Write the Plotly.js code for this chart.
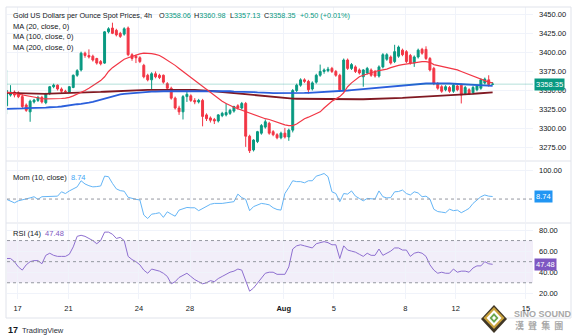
<!DOCTYPE html>
<html><head><meta charset="utf-8">
<script src="https://cdn.plot.ly/plotly-3.0.1.min.js"></script>
<style>html,body{margin:0;padding:0;background:#fff}#chart{width:577px;height:336px}</style>
</head><body><div id="chart"></div>
<script>
// ---- data (4h bars) ----
const opens = [3330,3344,3348,3347,3342,3331,3322,3335,3337,3341,
 3334,3346,3355,3357,3352,3349,3348,3354,3370,3377,
 3399,3396,3395,3392,3388,3386,3427,3432,3429,3425,
 3424,3432,3397,3395,3393,3383,3370,3364,3372,3370,
 3370,3359,3353,3340,3327,3322,3342,3343,3337,3335,
 3337,3318,3314,3312,3310,3317,3318,3320,3323,3330,
 3327,3333,3290,3272,3283,3294,3302,3307,3296,3292,
 3288,3294,3289,3298,3350,3357,3364,3362,3352,3361,
 3370,3375,3376,3379,3375,3370,3351,3390,3379,3381,
 3377,3368,3373,3377,3375,3369,3381,3391,3394,3388,
 3395,3403,3401,3396,3386,3394,3404,3404,3392,3379,
 3359,3355,3351,3354,3349,3356,3357,3346,3351,3347,
 3351,3353,3360,3364,3358.06];
const highs = [3377,3357,3350,3349,3345,3333,3338,3339,3343,3343,
 3347,3356,3359,3358,3354,3351,3356,3371,3378,3401,
 3401,3404,3397,3393,3390,3428,3433,3439,3431,3427,
 3433,3434,3399,3397,3395,3385,3372,3374,3375,3372,
 3371,3361,3355,3342,3330,3344,3348,3345,3340,3339,
 3339,3320,3316,3314,3319,3322,3333,3326,3330,3332,
 3335,3335,3292,3286,3297,3306,3312,3309,3298,3294,
 3296,3301,3300,3352,3359,3366,3366,3364,3362,3372,
 3384,3379,3381,3381,3377,3372,3392,3392,3386,3383,
 3379,3378,3381,3379,3377,3383,3399,3399,3396,3410,
 3409,3405,3403,3398,3396,3405,3406,3408,3394,3381,
 3361,3357,3357,3356,3359,3358,3359,3356,3353,3356,
 3358,3366,3367,3370,3360.98];
const lows = [3319,3342,3341,3340,3327,3322,3309,3333,3335,3333,
 3332,3344,3353,3350,3347,3347,3347,3353,3368,3375,
 3393,3392,3388,3384,3383,3385,3425,3424,3421,3419,
 3422,3395,3389,3386,3386,3366,3362,3351,3366,3365,
 3359,3351,3338,3325,3318,3312,3335,3335,3332,3333,
 3303,3310,3308,3306,3308,3315,3316,3318,3321,3325,
 3325,3276,3268,3270,3281,3292,3300,3292,3290,3286,
 3286,3287,3284,3295,3348,3355,3360,3346,3350,3359,
 3368,3372,3374,3373,3368,3349,3349,3377,3377,3373,
 3371,3355,3371,3368,3367,3367,3379,3389,3384,3386,
 3393,3395,3386,3384,3381,3392,3397,3390,3375,3357,
 3351,3347,3349,3347,3347,3349,3333,3344,3344,3345,
 3349,3351,3358,3355,3357.13];
const closes = [3350,3348,3344,3342,3329,3324,3336,3337.5,3341,3335,
 3346,3355,3357,3352,3349,3348.5,3355,3370,3376,3399,
 3396,3394,3390,3386,3385,3427,3431,3425,3423,3421,
 3431,3397,3392,3393,3388,3368,3364,3372,3368,3367,
 3361,3353,3340,3327,3322,3342,3345,3337,3335,3337,
 3316,3313,3311,3310,3318,3320,3321,3324,3329,3327,
 3333,3290,3271,3285,3296,3304,3309,3294,3292,3288,
 3294,3289,3298,3350,3357,3364,3362,3351,3360,3370,
 3375,3377,3378,3375,3370,3351,3390,3379,3384,3375,
 3373,3377,3379,3370,3369,3381,3397,3397,3386,3401,
 3407,3397,3388,3386,3394,3403,3399,3392,3377,3359,
 3353,3349,3355,3349,3357,3351,3344,3354,3346,3354,
 3356,3364,3365,3357.85,3358.35];
const ma20 = [3348,3347,3346,3345,3344,3343,3342,3341,3340,3339.5,
 3339,3339,3339,3339,3339.5,3340,3341,3343,3345,3347.5,
 3350,3353,3356,3359,3363,3368,3375,3380,3384,3388,
 3391,3393,3395,3397,3398,3399,3399,3398.5,3397.5,3396,
 3393,3390,3387,3383,3379,3375,3371,3367,3363,3359,
 3355,3351,3347,3343,3339,3336,3333,3330,3328,3326,
 3324,3322,3320,3318,3317,3315,3313,3312,3310,3308,
 3307,3305,3304,3304,3306,3310,3313,3315,3317,3319,
 3322,3327,3332,3336,3339,3342,3347,3355,3360,3364,
 3368,3370,3372,3374,3375,3376,3377,3378,3380,3382,
 3383,3384,3385,3386,3387,3388,3388,3388,3387,3384,
 3383,3381,3380,3379,3378,3377,3375,3373,3371,3368,
 3366,3364,3363,3361,3360];
const ma100 = [3326,3326,3326,3326.5,3326.5,3327,3327,3327,3327,3327.5,
 3327.5,3328,3328,3328.5,3329,3330,3330.5,3331,3332,3332.5,
 3333,3334,3335,3336.5,3338,3339.5,3341,3342,3343.5,3345,
 3345.5,3346,3346.5,3347,3347.5,3348,3348,3348.5,3348.5,3349,
 3349,3349,3349,3349,3349,3349.5,3349.5,3349.5,3349.5,3349.5,
 3349.5,3349.5,3349.5,3349,3349,3349,3349,3349,3348.5,3348.5,
 3348.5,3348.5,3348,3348,3347.5,3347.5,3347,3347,3346.5,3346.5,
 3346.3,3346.2,3346,3346,3346.2,3346.5,3346.8,3347,3347.2,3347.5,
 3347.8,3348,3348.3,3348.6,3349,3349.3,3349.6,3350,3350.5,3351,
 3351.5,3352,3352.5,3353,3353.5,3354,3354.5,3355,3355.5,3356,
 3356.5,3357,3357.5,3358,3358.5,3358.8,3359,3359.2,3359.4,3359.5,
 3359.5,3359.5,3359.4,3359.2,3358.9,3358.6,3358.2,3357.8,3357.4,3357,
 3356.7,3356.5,3356.3,3356.1,3356];
const ma200 = [3347,3346.8,3346.5,3346.2,3346,3345.8,3345.6,3345.5,3345.5,3345.6,
 3345.7,3345.8,3345.9,3346,3346.1,3346.2,3346.4,3346.6,3346.8,3347,
 3347.2,3347.4,3347.6,3347.9,3348.1,3348.4,3348.7,3349,3349.3,3349.6,
 3349.9,3350.1,3350.3,3350.5,3350.6,3350.7,3350.8,3350.9,3351,3351,
 3351,3351,3351,3351,3351,3351,3351,3350.9,3350.8,3350.7,
 3350.4,3350,3349.5,3349,3348.5,3348,3347.5,3346.8,3346,3345.5,
 3345,3344.5,3344,3343.6,3343.2,3342.8,3342.3,3341.9,3341.5,3341.2,
 3340.8,3340.3,3339.6,3339.3,3339.2,3339.1,3339,3339,3338.9,3338.9,
 3338.9,3338.9,3338.9,3338.8,3338.8,3338.7,3338.7,3338.6,3338.6,3338.5,
 3338.5,3338.5,3338.6,3338.7,3338.9,3339,3339.2,3339.4,3339.6,3339.8,
 3340,3340.3,3340.6,3340.9,3341.2,3341.4,3341.7,3341.9,3342,3342.2,
 3342.4,3342.6,3342.8,3343,3343.3,3343.6,3344,3344.5,3345,3345.6,
 3346.1,3346.6,3347,3347.3,3347.6];
const mom10 = [-1,-8,-13,-6,-3,-1,4,8,-1,8,
 9,10,10,10,25,19,28,35,42,63,
 52,46,42,43,45,79,77,54,35,29,
 27,6,2,-1,-3,-55,-67,-52,-50,-47,
 -63,-44,-52,-59,-38,-33,-29,-30,-30,-40,
 -33,-26,-18,-15,-16,-15,-13,-11,-9,17,
 5,-1,-40,-26,-20,-15,-17,-20,-30,-36,
 -38,19,40,63,60,60,56,63,63,79,
 83,88,77,25,19,-9,19,17,28,10,
 2,-6,2,0,0,28,8,4,5,25,
 26,31,19,14,25,21,8,10,0,-35,
 -43,-45,-47,-35,-40,-38,-47,-40,-32,-15,
 -3,8,14,10,8.74];
const rsi14 = [53,53,50,45,42,47,50,51,51,48,
 56,58,56,55,55,55,57,64,74,75,
 74,72,70,67,70,78,78,76,72,73,
 70,55,52,50,47,42,39,43,42,41,
 39,36,29,31,35,37,39,36,33,31,
 29,30,32,31,34,36,38,40,41,43,
 42,32,22,25,30,35,39,40,40,38,
 38,38,45,62,65,66,65,64,63,67,
 68,69,68,66,66,53,65,61,60,59,
 57,55,58,56,56,62,56,58,60,63,
 63,61,61,55,58,59,58,55,47,42,
 39,40,39,39,43,40,41,41,40,44,
 46,46,50,48,47.48];
const tickPos = [2.8, 15.8, 33.75, 46.8, 70.7, 83.5, 101.7, 114.6, 132.5];
const tickLabels = ['17','21','24','28','<b>Aug</b>','5','8','12','15'];
const priceTicks = [3275,3300,3325,3350,3375,3400,3425,3450];
const momTicks = [100];
const rsiTicks = [20,40,60,80];
const rsiLevels = [70,50,30];

// ---- layout helpers ----
const W = 577, H = 336;
const px = x => x / W, py = y => 1 - y / H;
const bars = closes.map((_, i) => i);
const last = closes.length - 1;
const UP = '#089981', DN = '#f23645';
const FONT = 'Liberation Sans, Arial, sans-serif';
const TXT = '#131722';

const traces = [
  {type:'candlestick', x:bars, open:opens, high:highs, low:lows, close:closes,
   xaxis:'x', yaxis:'y', whiskerwidth:0, hoverinfo:'skip',
   increasing:{line:{color:UP,width:1}, fillcolor:UP},
   decreasing:{line:{color:DN,width:1}, fillcolor:DN}},
  {type:'scatter', mode:'lines', x:bars, y:ma200, xaxis:'x', yaxis:'y', line:{color:'#801922', width:1.8}, hoverinfo:'skip'},
  {type:'scatter', mode:'lines', x:bars, y:ma100, xaxis:'x', yaxis:'y', line:{color:'#2a5fdc', width:1.8}, hoverinfo:'skip'},
  {type:'scatter', mode:'lines', x:bars, y:ma20, xaxis:'x', yaxis:'y', line:{color:'#f23645', width:1.2}, hoverinfo:'skip'},
  {type:'scatter', mode:'lines', x:bars, y:mom10, xaxis:'x', yaxis:'y2', line:{color:'#64b5f6', width:1}, hoverinfo:'skip'},
  {type:'scatter', mode:'lines', x:bars, y:rsi14, xaxis:'x', yaxis:'y3', line:{color:'#8e6fd0', width:1}, hoverinfo:'skip'}
];

const grid = '#f0f3fa';
const yCommon = {side:'right', anchor:'x', showgrid:true, gridcolor:grid, zeroline:false, showline:false,
  ticks:'', tickformat:'.2f', tickfont:{size:7.5, color:TXT, family:FONT}, ticklabelstandoff:5, fixedrange:true};

const shapes = [];
shapes.push({type:'rect', xref:'paper', yref:'y3', x0:px(7), x1:px(533), y0:rsiLevels[2], y1:rsiLevels[0],
  fillcolor:'rgba(126,87,194,0.10)', line:{width:0}, layer:'below'});
rsiLevels.forEach(v => shapes.push({type:'line', xref:'paper', yref:'y3', x0:px(7), x1:px(533), y0:v, y1:v,
  line:{color:'#9598a1', width:1, dash:'3px,3px'}}));
shapes.push({type:'line', xref:'paper', yref:'y2', x0:px(7), x1:px(533), y0:0, y1:0,
  line:{color:'#9598a1', width:1, dash:'3px,3px'}});
shapes.push({type:'line', xref:'paper', yref:'y', x0:px(7), x1:px(533), y0:closes[last], y1:closes[last],
  line:{color:'rgba(8,153,129,0.30)', width:1}});
[161, 223].forEach(y => shapes.push({type:'line', xref:'paper', yref:'paper', x0:px(6), x1:px(571), y0:py(y), y1:py(y),
  line:{color:'#e0e3eb', width:1}}));
shapes.push({type:'rect', xref:'paper', yref:'paper', x0:px(6), x1:px(571), y0:py(318), y1:py(7),
  line:{color:'#e0e3eb', width:1}});
function diamond(cx, cy, hw, hh, fill) {
  return {type:'path', xref:'paper', yref:'paper', fillcolor:fill, line:{width:0},
    path:`M ${px(cx)},${py(cy-hh)} L ${px(cx+hw)},${py(cy)} L ${px(cx)},${py(cy+hh)} L ${px(cx-hw)},${py(cy)} Z`};
}
shapes.push(diamond(494, 319, 13, 14, '#3f3626'));
shapes.push(diamond(494, 318, 10.5, 11, '#c9a23c'));
shapes.push(diamond(494, 318, 7.5, 8, '#ffffff'));
shapes.push(diamond(494, 318, 4.5, 5, '#6aa84f'));
shapes.push(diamond(494, 318, 2, 2.3, '#ffffff'));

const chg = closes[last] - closes[last-1];
const pct = chg / closes[last-1] * 100;
const sgn = v => (v >= 0 ? '+' : '');
const g = s => `<span style="color:${UP}">${s}</span>`;
const sp = '\u00a0';

function txt(x, y, text, extra) {
  return Object.assign({xref:'paper', yref:'paper', x:px(x), y:py(y), xanchor:'left', yanchor:'middle',
    text:text, showarrow:false, font:{size:7.5, color:TXT, family:FONT}}, extra || {});
}
const hf = {font:{size:7.25, color:TXT, family:FONT}};
function valBox(yref, val, bg) {
  return {xref:'paper', yref:yref, x:px(533.5), y:val, xanchor:'left', yanchor:'middle', showarrow:false,
    text:val.toFixed(2), bgcolor:bg, borderpad:1, font:{size:7.5, color:'#ffffff', family:FONT}};
}

const annotations = [
  txt(11, 15.7, 'Gold US Dollars per Ounce Spot Prices, 4h', hf),
  txt(157, 15.7, 'O' + g(opens[last].toFixed(2)), hf),
  txt(192, 15.7, 'H' + g(highs[last].toFixed(2)), hf),
  txt(228, 15.7, 'L' + g(lows[last].toFixed(2)), hf),
  txt(262, 15.7, 'C' + g(closes[last].toFixed(2)), hf),
  txt(298, 15.7, g(sgn(chg) + chg.toFixed(2) + ' (' + sgn(pct) + pct.toFixed(2) + '%)'), hf),
  txt(11, 26.2, 'MA (20, close, 0)'),
  txt(11, 36.8, 'MA (100, close, 0)'),
  txt(11, 47.4, 'MA (200, close, 0)'),
  txt(11, 177, 'Mom (10, close)' + sp + sp + `<span style="color:#42a5f5">${mom10[last].toFixed(2)}</span>`),
  txt(11, 233, 'RSI (14)' + sp + sp + `<span style="color:#7e57c2">${rsi14[last].toFixed(2)}</span>`),
  valBox('y', closes[last], UP),
  valBox('y2', mom10[last], '#2196f3'),
  valBox('y3', rsi14[last], '#7e57c2'),
  txt(5.5, 330, '<b>17</b>', {font:{size:9, color:TXT, family:FONT}}),
  txt(20, 330, 'TradingView', {font:{size:7.5, color:'#2a2e39', family:FONT}}),
  txt(512, 313.5, '<b>SINO SOUND</b>', {font:{size:9, color:'#a8a8a8', family:FONT}}),
  txt(513, 325.5, '<b>漢' + sp + sp + '聲' + sp + sp + '集' + sp + sp + '團</b>', {font:{size:9, color:'#a8a8a8', family:'Noto Sans CJK TC, sans-serif'}})
];

const layout = {
  width:W, height:H, margin:{l:0, r:0, t:0, b:0}, paper_bgcolor:'#ffffff', plot_bgcolor:'#ffffff',
  showlegend:false, hovermode:false, dragmode:false, font:{family:FONT, size:7.5, color:TXT},
  xaxis:{domain:[px(7), px(533)], range:[0.1, 134.3], anchor:'y3', tickvals:tickPos, ticktext:tickLabels,
    showgrid:true, gridcolor:grid, zeroline:false, showline:false, ticks:'', ticklabelstandoff:3,
    tickfont:{size:7.5, color:TXT, family:FONT}, rangeslider:{visible:false}, fixedrange:true},
  yaxis:Object.assign({}, yCommon, {domain:[py(160), py(7)], range:[3258.8, 3459.6], tickvals:priceTicks}),
  yaxis2:Object.assign({}, yCommon, {domain:[py(222), py(162)], range:[-79, 127.6], tickvals:momTicks}),
  yaxis3:Object.assign({}, yCommon, {domain:[py(299), py(224)], range:[14.6, 85.7], tickvals:rsiTicks}),
  shapes:shapes, annotations:annotations
};

Plotly.newPlot('chart', traces, layout, {staticPlot:true, displayModeBar:false});
</script>
</body></html>
